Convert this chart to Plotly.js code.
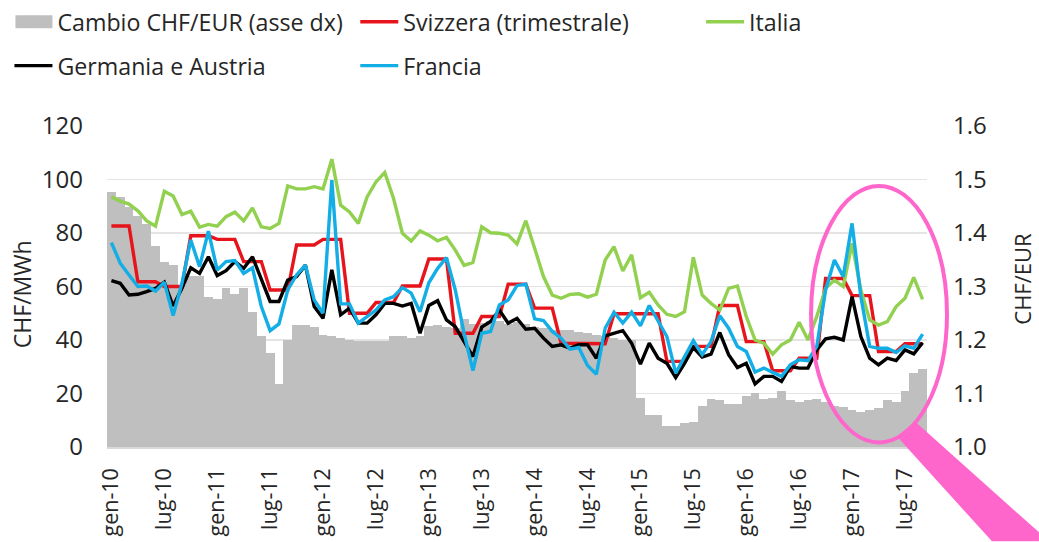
<!DOCTYPE html>
<html><head><meta charset="utf-8">
<script src="https://cdn.plot.ly/plotly-3.0.1.min.js"></script>
<style>html,body{margin:0;padding:0;background:#fff;overflow:hidden}#c{width:1039px;height:542px}</style>
</head><body><div id="c"></div>
<script>
const monthNames=["gen","feb","mar","apr","mag","giu","lug","ago","set","ott","nov","dic"];
const months=[];
for(let y=10;y<=17;y++){for(let m=0;m<12;m++){if(y===17&&m>8)break;months.push(monthNames[m]+"-"+y);}}
const tickLabels=months.filter((_,i)=>i%6===0);
const cambio=[1.476,1.467,1.448,1.432,1.417,1.376,1.345,1.340,1.303,1.319,1.319,1.281,1.277,1.297,1.286,1.297,1.253,1.208,1.175,1.118,1.200,1.228,1.228,1.225,1.210,1.207,1.203,1.200,1.199,1.199,1.199,1.199,
1.208,1.207,1.204,1.208,1.227,1.228,1.225,1.222,1.240,1.230,1.231,1.235,1.235,1.230,1.233,1.230,1.225,1.222,1.219,1.219,1.218,1.215,1.213,1.210,1.207,1.203,1.200,1.200,1.091,1.060,1.060,1.039,1.039,
1.044,1.047,1.077,1.090,1.087,1.081,1.081,1.095,1.101,1.090,1.092,1.104,1.087,1.084,1.087,1.090,1.085,1.077,1.075,1.070,1.065,1.069,1.072,1.088,1.085,1.104,1.138,1.146];
const svizzera=[82.6,82.6,82.6,61.8,61.8,61.8,60,60,60,79,79,79,77.6,77.6,77.6,69.3,69.3,69.3,58.7,58.7,58.7,75.5,75.5,75.5,77.6,77.6,77.6,50,50,50,54,54,54,60.2,60.2,60.2,70.3,70.3,70.3,42.5,42.5,42.5,48.8,48.8,48.8,60.9,60.9,60.9,51.9,51.9,51.9,38.8,38.8,38.8,38.6,38.6,38.6,49.8,49.8,49.8,49.8,49.8,49.8,32,32,32,37.6,37.6,37.6,52.9,52.9,52.9,39.4,39.4,39.4,28.5,28.5,28.5,33.2,33.2,33.2,63,63,63,56.6,56.6,56.6,35.7,35.7,35.7,38.6,38.6,38.6];
const italia=[93.5,91.9,90.8,88.3,84.5,82.6,95.6,93.8,86.9,88.2,82.2,83.2,82.6,86.1,87.8,84.5,89.4,82.3,81.7,83.6,97.6,96.5,96.5,97.3,96.5,107.6,90.4,87.9,83.6,93.5,99.1,102.6,
92.9,79.9,77,80.8,79.2,77.1,78.4,73.6,67.9,69,82.3,80.1,79.9,79.2,75.9,84.6,74.3,63.7,56.8,55.6,57,57.3,56,57.1,69.9,74.9,65.8,71.8,55.8,57.8,53.1,49.6,48.8,
50.6,70.9,56.8,53.7,51.2,59.3,60.2,48.8,40,38.8,34.7,38.2,40,46.6,40,48.8,59.3,62.4,60,76.1,58.7,47.5,45.6,46.9,52.5,55.6,63.4,55.2];
const germania=[62.2,61.2,56.8,57.1,58.1,59.3,61.6,52.7,59.3,67,64.9,71.1,64.1,65.9,69.3,66.8,71.1,62.4,54.4,54.4,62.4,63.7,68,52.5,48.1,66.2,49.4,51.9,46.3,46.3,49.4,53.7,
53.7,52.7,53.7,42.5,52.9,54.7,47.5,45,39.4,33.8,44.8,46.9,51.2,46.3,48.1,44,44.4,40.7,37.6,38.2,36.9,38.2,38.2,33.2,41.5,42.5,43.5,38.8,31,38.8,33.2,31.3,26,
31.3,37.2,33.6,34.7,42.8,34.5,29.7,31.3,23.6,26.4,26.4,24.5,30.1,29.5,29.5,36.3,40.4,41,40,56.2,41.3,33.2,30.7,33.2,32.3,36.3,34.8,39];
const francia=[76.4,68.7,64.3,60,60.2,58.3,61.6,49.1,61.2,77.4,67.4,80.7,66.2,69.3,69.7,64.9,67,52.5,43.5,46,58.7,64.3,68,55,50,99.8,53.5,53.5,46.3,48.8,51.2,55,
56.2,59.6,57.5,50.6,61.4,66.8,70.8,58.7,42.5,28.6,42.5,43.2,53.1,55,60.3,60.9,47.9,47.3,43.2,40.7,36.6,37.2,30.5,27.2,44.4,50.4,46.3,50.4,45.3,52.9,46.9,41.3,27.6,
33.8,39.8,34.5,39.4,49.1,44.4,37.6,35.7,28,29.5,27.9,26.4,30.7,32.6,32.3,37.6,58.7,69.9,63.7,83.6,56.2,37.6,36.9,36.9,35.3,37.8,36.9,42.2];

const L=106.6,R=927,T=126,B=447.5;
const px=x=>(x-L)/(R-L), py=y=>(B-y)/(B-T);
const FONT="'Open Sans', sans-serif", INK="#262626";
const line=(name,y,color,legend)=>({type:"scatter",mode:"lines",name,x:months,y,yaxis:"y2",legend,line:{color,width:3.4,shape:"linear"},hoverinfo:"x+y+name"});
const traces=[
 {type:"bar",name:"Cambio CHF/EUR (asse dx)",x:months,y:cambio,marker:{color:"#bfbfbf",line:{width:0}},legend:"legend"},
 line("Svizzera (trimestrale)",svizzera,"#e8141c","legend5"),
 line("Italia",italia,"#92d050","legend3"),
 line("Germania e Austria",germania,"#000000","legend2"),
 line("Francia",francia,"#13aee6","legend4")
];
const lg=(x,y)=>({x,y,xanchor:"left",yanchor:"middle",orientation:"h",font:{family:FONT,size:23.2,color:INK},bgcolor:"rgba(0,0,0,0)",borderwidth:0,itemwidth:38});
const axisTitle=(text,x,y,size)=>({text,xref:"paper",yref:"paper",x:px(x),y:py(y),xanchor:"center",yanchor:"middle",textangle:-90,showarrow:false,font:{family:FONT,size,color:INK}});
const layout={
 width:1039,height:542,paper_bgcolor:"#fff",plot_bgcolor:"#fff",
 margin:{l:L,r:1039-R,t:T,b:542-B,pad:0,autoexpand:false},
 bargap:0,showlegend:true,
 font:{family:FONT,color:INK},
 legend:lg(px(9),py(22)),
 legend5:lg(px(355),py(22)),
 legend2:lg(px(9),py(66)),
 legend3:lg(px(701),py(22)),
 legend4:lg(px(355),py(66)),
 xaxis:{type:"category",categoryorder:"array",categoryarray:months,range:[-0.5,92.5],tickmode:"array",tickvals:tickLabels,ticktext:tickLabels,tickangle:-90,tickfont:{family:FONT,size:21.5,color:INK},showgrid:false,zeroline:false,showline:true,linecolor:"#d9d9d9",linewidth:1.5,ticks:"",ticklabelstandoff:11,automargin:false},
 yaxis:{side:"right",range:[1,1.6],tickvals:[1,1.1,1.2,1.3,1.4,1.5,1.6],ticktext:["1.0","1.1","1.2","1.3","1.4","1.5","1.6"],tickfont:{family:FONT,size:24,color:INK},showgrid:true,gridcolor:"#e4e4e4",gridwidth:1.5,zeroline:false,ticks:"",ticklabelstandoff:25,automargin:false},
 yaxis2:{side:"left",overlaying:"y",range:[0,120],tickvals:[0,20,40,60,80,100,120],tickfont:{family:FONT,size:24,color:INK},showgrid:false,zeroline:false,ticks:"",ticklabelstandoff:23,automargin:false},
 annotations:[axisTitle("CHF/MWh",21,294,23),axisTitle("CHF/EUR",1022,279,22)],
 shapes:[
  {type:"rect",xref:"paper",yref:"paper",x0:px(15),x1:px(52),y0:py(28),y1:py(15),fillcolor:"#bfbfbf",line:{width:0},layer:"above"},
  {type:"path",xref:"paper",yref:"paper",path:`M ${px(897)} ${py(437)} L ${px(915)} ${py(422)} L ${px(1039)} ${py(533)} L ${px(1039)} ${py(542)} L ${px(992)} ${py(542)} Z`,fillcolor:"#ff66cc",line:{width:0},layer:"above"},
  {type:"circle",xref:"paper",yref:"paper",x0:px(811),x1:px(947),y0:py(443),y1:py(186),line:{color:"#ff66cc",width:4},fillcolor:"rgba(0,0,0,0)",layer:"above"}
 ]
};
Plotly.newPlot("c",traces,layout,{displayModeBar:false,staticPlot:true});
</script></body></html>
